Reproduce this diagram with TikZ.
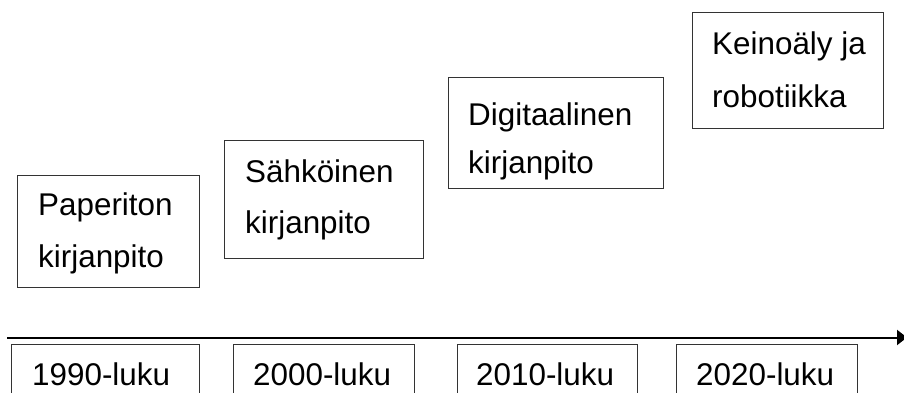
\documentclass[tikz,border=0pt]{standalone}
\usepackage{fontspec}
\setmainfont{Liberation Sans}
\usetikzlibrary{arrows.meta}
\tikzset{
  boxline/.style={draw=black!80, line width=1.1pt},
  frame/.style={boxline, anchor=north west, inner sep=0pt},
  label2/.style={anchor=base west, inner sep=0pt, align=left},
  datetext/.style={anchor=base west, inner sep=0pt, font=\fontsize{31.4}{38}\selectfont},
  axis/.style={line width=2pt, -{Triangle[length=10pt,width=15pt]}}
}
\begin{document}
\begin{tikzpicture}[x=1pt,y=-1pt]
\useasboundingbox (0,0) rectangle (904,393);
\clip (0,0) rectangle (904,393);
% top boxes
\node[frame, minimum width=182pt, minimum height=112pt] (p1) at (17,175) {};
\node[frame, minimum width=199pt, minimum height=118pt] (p2) at (224,140) {};
\node[frame, minimum width=215pt, minimum height=111pt] (p3) at (448,77) {};
\node[frame, minimum width=191pt, minimum height=116pt] (p4) at (692,12) {};
% anchor base = baseline of the last line
\node[label2, font=\fontsize{31.4}{52}\selectfont] (l1) at (38,267) {Paperiton\\kirjanpito};
\node[label2, font=\fontsize{31.4}{51}\selectfont] (l2) at (245,233) {Sähköinen\\kirjanpito};
\node[label2, font=\fontsize{31.4}{48}\selectfont] (l3) at (468,173) {Digitaalinen\\kirjanpito};
\node[label2, font=\fontsize{31.4}{53}\selectfont] (l4) at (712,108) {Keinoäly ja\\robotiikka};
% axis
\coordinate (a0) at (7,337.5);
\coordinate (a1) at (907,337.5);
\draw[axis] (a0) -- (a1);
% date boxes
\node[frame, minimum width=188pt, minimum height=90pt] (d1) at (11,344) {};
\node[frame, minimum width=181pt, minimum height=90pt] (d2) at (233,344) {};
\node[frame, minimum width=180pt, minimum height=90pt] (d3) at (457,344) {};
\node[frame, minimum width=181pt, minimum height=90pt] (d4) at (676,344) {};
\node[datetext] (t1) at (32,385) {1990-luku};
\node[datetext] (t2) at (253,385) {2000-luku};
\node[datetext] (t3) at (476,385) {2010-luku};
\node[datetext] (t4) at (696,385) {2020-luku};
\end{tikzpicture}
\end{document}
